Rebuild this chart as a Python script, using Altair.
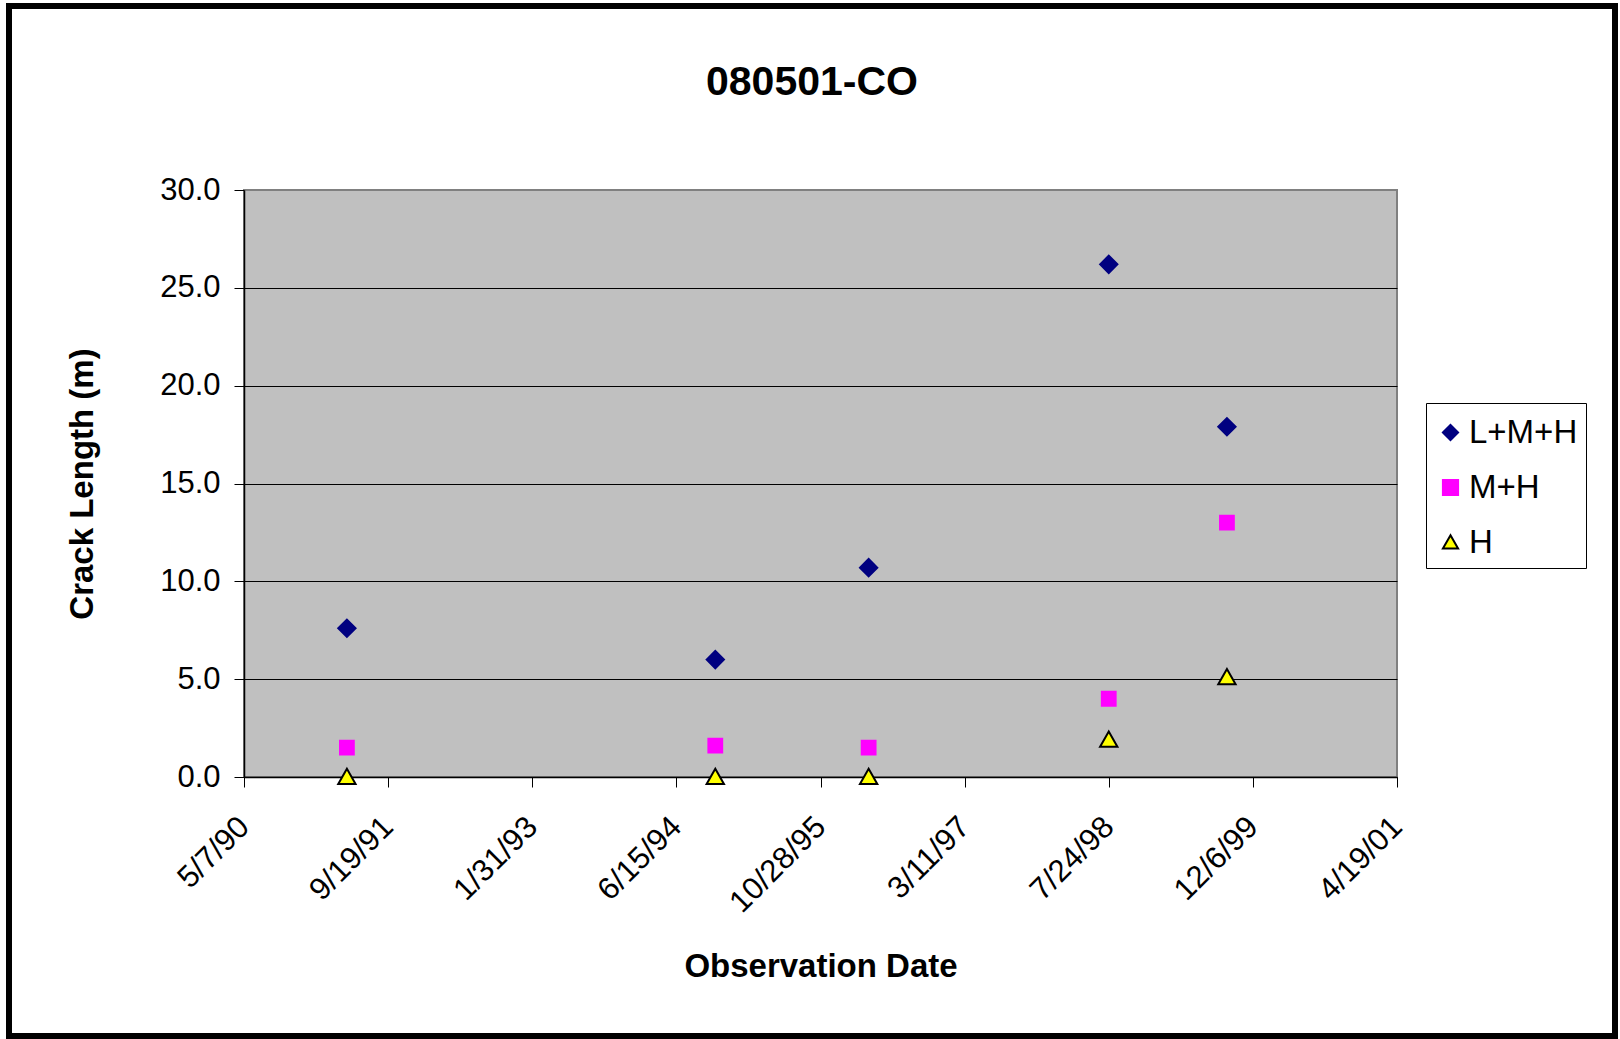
import altair as alt
import pandas as pd

# ---- data ----
TITLE = "080501-CO"
X_TITLE = "Observation Date"
Y_TITLE = "Crack Length (m)"
SERIES = ["L+M+H", "M+H", "H"]
DATES = ["1991-04-29", "1994-10-28", "1996-04-12", "1998-07-24", "1999-09-07"]
LMH = [7.6, 6.0, 10.7, 26.2, 17.9]
MH = [1.5, 1.6, 1.5, 4.0, 13.0]
H = [0.0, 0.0, 0.0, 1.9, 5.1]
X_TICKS = ["1990-05-07", "1991-09-19", "1993-01-31", "1994-06-15", "1995-10-28",
           "1997-03-11", "1998-07-24", "1999-12-06", "2001-04-19"]
Y_TICKS = [0, 5, 10, 15, 20, 25, 30]

FILLS = ["#000080", "#FF00FF", "#FFFF00"]
STROKES = ["#000080", "#FF00FF", "#000000"]
SHAPES = ["diamond", "square", "M0,-0.95L1,0.8L-1,0.8Z"]
SIZES = [300, 190, 300]

FONT = "Liberation Sans, Arial, sans-serif"

rows = []
for name, vals, sz in zip(SERIES, [LMH, MH, H], SIZES):
    for d, v in zip(DATES, vals):
        rows.append({"date": d, "value": v, "series": name, "sz": sz})
df = pd.DataFrame(rows)


def ms(s):
    return int(pd.Timestamp(s, tz="UTC").value // 10**6)


tick_ms = [ms(t) for t in X_TICKS]

W, H_ = 1153, 587
PL, PT = 244, 190
PR, PB = 1620 - PL - W, 1039 - PT - H_

x_enc = alt.X(
    "date:T",
    scale=alt.Scale(type="utc", domain=[tick_ms[0], tick_ms[-1]], nice=False),
    axis=alt.Axis(
        values=tick_ms, format="%-m/%-d/%y", labelAngle=-45, labelAlign="right",
        labelBaseline="middle", labelPadding=35, labelFontSize=31, labelFont=FONT,
        labelColor="black", tickSize=10, tickColor="black", domainColor="black",
        domainWidth=1.5, grid=False, title=X_TITLE, titleFontSize=33, titleFont=FONT,
        titleFontWeight="bold", titleColor="black", titleX=W / 2, titleY=189,
        titleBaseline="middle", titleAlign="center", labelOverlap=False, labelFlush=False,
    ),
)
y_enc = alt.Y(
    "value:Q",
    scale=alt.Scale(domain=[0, 30], nice=False, zero=True),
    axis=alt.Axis(
        values=Y_TICKS, format=".1f", labelFontSize=31, labelFont=FONT, labelColor="black",
        labelPadding=14, tickSize=10, tickColor="black", domainColor="black", domainWidth=1.5,
        grid=True,
        gridColor={"condition": {"test": "datum.value === 30", "value": "#808080"}, "value": "black"},
        gridWidth=1, title=Y_TITLE, titleFontSize=33, titleFont=FONT, titleFontWeight="bold",
        titleColor="black", titleX=-162, titleY=H_ / 2, titleBaseline="middle",
        titleAlign="center", titleAngle=270,
    ),
)

legend = alt.Legend(orient="none", legendX=1182, legendY=213)

points = alt.Chart(df).mark_point(filled=True, opacity=1, strokeWidth=2).encode(
    x=x_enc,
    y=y_enc,
    color=alt.Color("series:N", scale=alt.Scale(domain=SERIES, range=FILLS), legend=legend, title=" "),
    stroke=alt.Stroke("series:N", scale=alt.Scale(domain=SERIES, range=STROKES), legend=legend, title=" "),
    shape=alt.Shape("series:N", scale=alt.Scale(domain=SERIES, range=SHAPES), legend=legend, title=" "),
    size=alt.Size("sz:Q", scale=None),
)

title_df = pd.DataFrame({"t": [TITLE]})
title = alt.Chart(title_df).mark_text(
    font=FONT, fontSize=41, fontWeight="bold", color="black",
    align="center", baseline="alphabetic",
).encode(text="t:N", x=alt.value(812 - PL), y=alt.value(95 - PT))

frame = alt.Chart(title_df).mark_rect(
    filled=False, stroke="black", strokeWidth=6,
).encode(x=alt.value(9 - PL), x2=alt.value(1615 - PL),
         y=alt.value(6 - PT), y2=alt.value(1036 - PT))

chart = alt.layer(points, title, frame).properties(
    width=W, height=H_,
    autosize=alt.AutoSizeParams(type="none"),
    padding={"left": PL, "top": PT, "right": PR, "bottom": PB},
    background="white",
).configure_view(
    fill="#C0C0C0", stroke="#808080", strokeWidth=2,
).configure_legend(
    labelFontSize=33, labelFont=FONT, labelColor="black",
    symbolSize=230, symbolStrokeWidth=2, rowPadding=21,
    padding=8, symbolOffset=0, labelOffset=2,
    strokeColor="black", fillColor="white",
    titleFontSize=5, titlePadding=0, titleLineHeight=5,
)

chart.save("out.html", embed_options={"renderer": "svg", "actions": False})
